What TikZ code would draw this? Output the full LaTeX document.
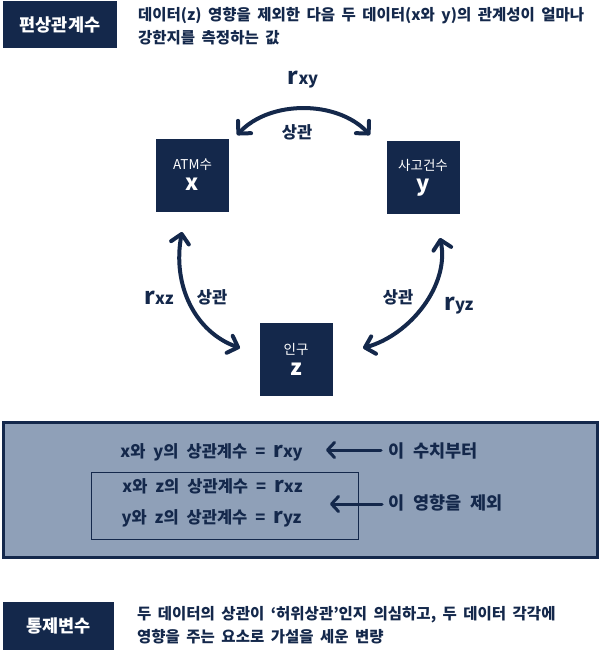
\documentclass[tikz,border=0pt]{standalone}
\usepackage{fontspec}
\setmainfont{Noto Sans CJK KR}
\usetikzlibrary{arrows.meta}
\definecolor{navy}{HTML}{14284B}
\definecolor{panel}{HTML}{8FA0B8}
\newcommand{\widesp}[1]{\spaceskip=#1\relax}
\tikzset{
  tag/.style={fill=navy,text=white,font=\bfseries\fontsize{17.5}{20}\selectfont,inner sep=0pt},
  varbox/.style={fill=navy,text=white,minimum width=73pt,minimum height=73pt,inner sep=0pt,align=center,font=\fontsize{13.5}{15}\selectfont},
  desc/.style={text=navy,font=\bfseries\fontsize{15.5}{22.5}\selectfont\widesp{6.5pt},align=left,anchor=west,inner sep=0pt},
  lbl/.style={text=navy,font=\bfseries\fontsize{16.5}{18}\selectfont,inner sep=0pt},
  rel/.style={draw=navy,line width=4pt,line cap=round,{Straight Barb[length=9pt,width=18pt,line width=4pt,round]}-{Straight Barb[length=9pt,width=18pt,line width=4pt,round]}},
  pointer/.style={draw=navy,line width=3pt,line cap=round,-{Straight Barb[length=7pt,width=15pt,line width=3pt,round]}},
  row/.style={text=navy,font=\bfseries\fontsize{16.5}{18}\selectfont\widesp{8pt},inner sep=0pt},
  note/.style={text=navy,font=\bfseries\fontsize{17.5}{18}\selectfont\widesp{9pt},inner sep=0pt,anchor=west}
}
\newcommand{\rsym}[1]{{\fontsize{23}{23}\selectfont r}{\fontsize{16.5}{16.5}\selectfont #1}}
\newcommand{\rsmall}[1]{{\fontsize{21}{21}\selectfont r}#1}
\begin{document}
\begin{tikzpicture}[x=1pt,y=-1pt]
\useasboundingbox (0,0) rectangle (600,650);
% top tag and description
\node[tag,minimum width=114pt,minimum height=47pt] (t1) at (60,25) {편상관계수};
\node[desc] (d1) at (138,26) {데이터(z) 영향을 제외한 다음 두 데이터(x와 y)의 관계성이 얼마나\\강한지를 측정하는 값};
% variable boxes
\node[varbox] (x) at (192.5,175) {ATM수\\[6pt]\fontsize{22}{22}\selectfont\bfseries x};
\node[varbox] (y) at (423,177.5) {사고건수\\[6pt]\fontsize{22}{22}\selectfont\bfseries y};
\node[varbox] (z) at (296,359) {인구\\[6pt]\fontsize{22}{22}\selectfont\bfseries z};
% arrow ends
\coordinate (a1) at (237,135);
\coordinate (a2) at (370,135);
\coordinate (b1) at (182,232);
\coordinate (b2) at (240,348);
\coordinate (c1) at (440,238);
\coordinate (c2) at (363,348);
\draw[rel] (a1) .. controls (270,100) and (337,100) .. (a2);
\draw[rel] (b1) .. controls (172,285) and (195,332) .. (b2);
\draw[rel] (c1) .. controls (450,285) and (410,335) .. (c2);
% labels
\node[lbl] (rxy) at (303,80) {\rsym{xy}};
\node[lbl] (s1) at (297,132) {상관};
\node[lbl] (rxz) at (159,298) {\rsym{xz}};
\node[lbl] (s2) at (212,297) {상관};
\node[lbl] (s3) at (398,297) {상관};
\node[lbl] (ryz) at (459,306) {\rsym{yz}};
% bottom panel
\node[draw=navy,fill=panel,line width=3pt,minimum width=594pt,minimum height=135pt,inner sep=0pt] (panel) at (300,489.5) {};
\node[draw=navy,line width=1pt,minimum width=267pt,minimum height=67pt,inner sep=0pt] (inner) at (224.5,505.5) {};
\node[row] (l1) at (211.5,452) {x와 y의 상관계수 = \rsmall{xy}};
\node[row] (l2) at (212.5,486) {x와 z의 상관계수 = \rsmall{xz}};
\node[row] (l3) at (211.5,518) {y와 z의 상관계수 = \rsmall{yz}};
\node[note] (n1) at (388,451) {이 수치부터};
\node[note] (n2) at (388,503) {이 영향을 제외};
\coordinate (p1s) at (381,450);
\coordinate (p1e) at (326,450);
\coordinate (p2s) at (382,504);
\coordinate (p2e) at (330,504);
\draw[pointer] (p1s) -- (p1e);
\draw[pointer] (p2s) -- (p2e);
% bottom tag
\node[tag,minimum width=111pt,minimum height=48pt] (t2) at (58.5,626) {통제변수};
\node[desc] (d2) at (137,625) {두 데이터의 상관이 ‘허위상관’인지 의심하고, 두 데이터 각각에\\영향을 주는 요소로 가설을 세운 변량};
\end{tikzpicture}
\end{document}
